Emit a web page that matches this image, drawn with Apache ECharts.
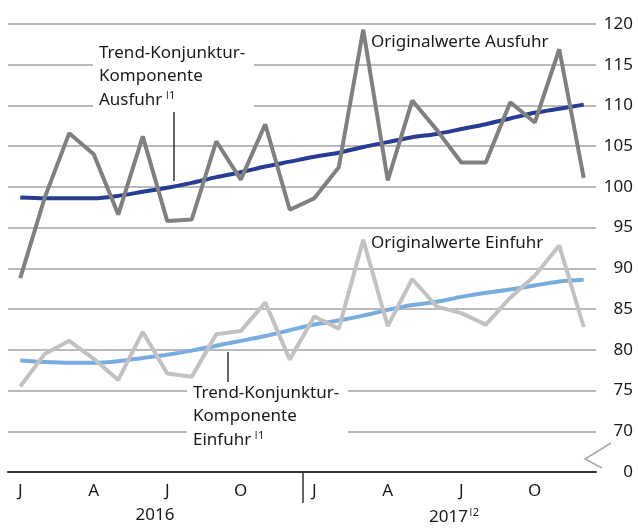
<!DOCTYPE html>
<html>
<head>
<meta charset="utf-8">
<script src="https://cdn.jsdelivr.net/npm/echarts@6/dist/echarts.min.js"></script>
<style>
  html, body { margin: 0; padding: 0; background: #fff; }
  #chart { width: 638px; height: 531px; }
</style>
</head>
<body>
<div id="chart"></div>
<script>
// Monate Jan 2016 - Dez 2017
const months = ['J','F','M','A','M','J','J','A','S','O','N','D',
                'J','F','M','A','M','J','J','A','S','O','N','D'];
const years = ['2016', '2017'];

// Ausfuhr
const ausfuhrOriginal = [88.8, 98.7, 106.6, 104.0, 96.6, 106.2, 95.8, 96.0, 105.6, 100.9, 107.7, 97.2,
                         98.6, 102.4, 119.3, 100.8, 110.6, 107.0, 103.0, 103.0, 110.4, 107.9, 116.9, 101.1];
const ausfuhrTrend = [98.7, 98.6, 98.6, 98.6, 98.9, 99.4, 99.9, 100.5, 101.2, 101.8, 102.5, 103.1,
                      103.7, 104.2, 104.9, 105.5, 106.1, 106.5, 107.1, 107.7, 108.4, 109.1, 109.6, 110.1];

// Einfuhr
const einfuhrOriginal = [75.5, 79.5, 81.1, 78.9, 76.3, 82.2, 77.1, 76.7, 81.9, 82.3, 85.8, 78.8,
                         84.1, 82.6, 93.5, 82.9, 88.7, 85.3, 84.5, 83.1, 86.4, 89.1, 92.8, 82.8];
const einfuhrTrend = [78.7, 78.5, 78.4, 78.4, 78.6, 79.0, 79.4, 79.9, 80.5, 81.1, 81.7, 82.4,
                      83.1, 83.6, 84.2, 84.9, 85.5, 85.9, 86.5, 87.0, 87.4, 87.9, 88.4, 88.6];

// y-Achse: 65 steht fuer die gebrochene Null
const yMin = 65, yMax = 120, yStep = 5;

const FONT = '"Noto Sans", sans-serif';
const FS = 17;
const TXT = '#1a1a1a';

const chart = echarts.init(document.getElementById('chart'));

function lineSeries(name, data, color, smooth) {
  return {
    name: name,
    type: 'line',
    data: data,
    symbol: 'none',
    smooth: smooth,
    animation: false,
    lineStyle: { color: color, width: 4 }
  };
}

const option = {
  animation: false,
  grid: { left: 8, right: 42, top: 24, bottom: 59 },
  xAxis: [
    {
      type: 'category',
      data: months,
      boundaryGap: true,
      axisLine: { lineStyle: { color: '#333', width: 2 } },
      axisTick: {
        length: 8,
        interval: (i) => i !== 0 && i !== 12,
        lineStyle: { color: '#333', width: 1.5 }
      },
      axisLabel: {
        interval: (i) => i % 3 === 0,
        margin: 11,
        color: TXT,
        fontFamily: FONT,
        fontSize: FS
      }
    },
    {
      type: 'category',
      data: years,
      position: 'bottom',
      boundaryGap: true,
      axisLine: { show: false },
      axisTick: { show: false },
      axisLabel: {
        margin: 35,
        color: TXT,
        fontFamily: FONT,
        fontSize: FS,
        formatter: (v) => v === '2017' ? '{p|}' + v + '{s|\u01C02}' : v,
        rich: {
          p: { width: 10 },
          s: { fontSize: 11, fontFamily: FONT, color: TXT, padding: [0, 0, 9, 1] }
        }
      }
    }
  ],
  yAxis: {
    type: 'value',
    position: 'right',
    min: yMin,
    max: yMax,
    interval: yStep,
    axisLine: { show: false },
    axisTick: { show: false },
    splitLine: { lineStyle: { color: '#a3a3a3', width: 1.5 } },
    axisLabel: {
      align: 'right',
      margin: 37,
      color: TXT,
      fontFamily: FONT,
      fontSize: FS,
      formatter: (v) => v === yMin ? '0' : String(v)
    }
  },
  series: [
    lineSeries('Trend-Konjunktur-Komponente Einfuhr', einfuhrTrend, '#79ade0', 0.3),
    lineSeries('Originalwerte Einfuhr', einfuhrOriginal, '#c2c2c2', false),
    lineSeries('Trend-Konjunktur-Komponente Ausfuhr', ausfuhrTrend, '#283c93', 0.3),
    lineSeries('Originalwerte Ausfuhr', ausfuhrOriginal, '#808080', false)
  ],
  graphic: [
    // Beschriftung Trend Ausfuhr
    { type: 'rect', z: 50, shape: { x: 93, y: 40, width: 161, height: 72 }, style: { fill: '#fff' } },
    {
      type: 'text', z: 51,
      style: {
        x: 99, y: 41,
        text: 'Trend-Konjunktur-\nKomponente\nAusfuhr{s|\u01C01}',
        font: FS + 'px ' + FONT, fill: TXT, lineHeight: 23.5, verticalAlign: 'top',
        rich: { s: { fontSize: 11, fontFamily: FONT, fill: TXT, padding: [0, 0, 8, 3] } }
      }
    },
    { type: 'line', z: 51, shape: { x1: 174, y1: 112, x2: 174, y2: 181 }, style: { stroke: '#333', lineWidth: 1.5 } },

    // Beschriftung Trend Einfuhr
    { type: 'rect', z: 50, shape: { x: 187, y: 384, width: 161, height: 64 }, style: { fill: '#fff' } },
    {
      type: 'text', z: 51,
      style: {
        x: 193, y: 381,
        text: 'Trend-Konjunktur-\nKomponente\nEinfuhr{s|\u01C01}',
        font: FS + 'px ' + FONT, fill: TXT, lineHeight: 23.5, verticalAlign: 'top',
        rich: { s: { fontSize: 11, fontFamily: FONT, fill: TXT, padding: [0, 0, 8, 3] } }
      }
    },
    { type: 'line', z: 51, shape: { x1: 228, y1: 352, x2: 228, y2: 382 }, style: { stroke: '#333', lineWidth: 1.5 } },

    // Originalwerte
    { type: 'text', z: 51, style: { x: 371, y: 42, text: 'Originalwerte Ausfuhr', font: FS + 'px ' + FONT, fill: TXT, verticalAlign: 'middle' } },
    { type: 'text', z: 51, style: { x: 371, y: 243, text: 'Originalwerte Einfuhr', font: FS + 'px ' + FONT, fill: TXT, verticalAlign: 'middle' } },

    // Jahrestrenner
    { type: 'line', z: 51, shape: { x1: 303, y1: 473, x2: 303, y2: 503 }, style: { stroke: '#333', lineWidth: 1.5 } },

    // Achsenbruch
    { type: 'polyline', z: 51, shape: { points: [[611, 443], [585, 459], [602, 468]] }, style: { stroke: '#a8a8a8', lineWidth: 1.5, fill: null } }
  ]
};

chart.setOption(option);
</script>
</body>
</html>
